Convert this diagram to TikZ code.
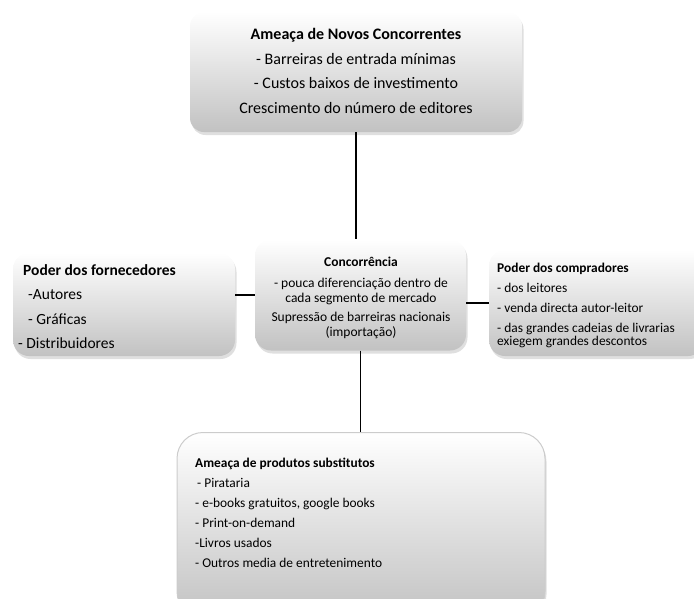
\documentclass[tikz,border=0pt]{standalone}
\usepackage{fontspec}
\setmainfont{Carlito}
\usetikzlibrary{shadows}
\begin{document}
\begin{tikzpicture}[x=1pt,y=-1pt,
  panel/.style={rectangle, rounded corners=#1, top color=white, bottom color=black!24,
    drop shadow={shadow xshift=1.5pt, shadow yshift=-3pt, opacity=0.25}},
  link/.style={line width=1.6pt, black},
  txt/.style={inner sep=0pt, text=black}
]
\useasboundingbox (0,0) rectangle (694,598);

% boxes
\node[panel=14pt, minimum width=332pt, minimum height=120pt] (novos) at (356,72) {};
\node[panel=16pt, minimum width=211pt, minimum height=111pt] (rival) at (360.5,295) {};
\node[panel=16pt, minimum width=222pt, minimum height=103pt] (forn) at (124,304.5) {};
\node[panel=16pt, minimum width=215pt, minimum height=106pt] (comp) at (596.5,303) {};
\node[panel=26pt, draw=gray!40, line width=1pt, minimum width=368pt, minimum height=185pt] (subst) at (361,525) {};

% connectors
\draw[link] (novos.south) -- (novos.south |- rival.north);
\draw[link] (forn.east |- rival.west) -- (rival.west);
\draw[link] (rival.east |- comp.west) -- (comp.west);
\draw[link] (rival.south) -- (rival.south |- subst.north);

% texts
\node[txt, align=center, font=\fontsize{16}{24.5}\selectfont] (novos-t) at (356,71)
  {{\bfseries Ameaça de Novos Concorrentes}\\- Barreiras de entrada mínimas\\- Custos baixos de investimento\\Crescimento do número de editores};
\node[txt, align=center, font=\fontsize{13.5}{15.5}\selectfont] (rival-t) at (361,298)
  {{\bfseries Concorrência}\\[5pt]- pouca diferenciação dentro de\\cada segmento de mercado\\[3pt]Supressão de barreiras nacionais\\(importação)};
\node[txt, anchor=west, align=left, font=\fontsize{15.5}{24.5}\selectfont] (forn-t) at (18,306.5)
  {\hspace*{5pt}{\bfseries Poder dos fornecedores}\\\hspace*{10pt}-Autores\\\hspace*{10pt}- Gráficas\\- Distribuidores};
\node[txt, anchor=west, align=left, font=\fontsize{13.4}{13.5}\selectfont] (comp-t) at (497,305.5)
  {{\bfseries Poder dos compradores}\\[6.5pt]- dos leitores\\[6.5pt]- venda directa autor-leitor\\[6.5pt]- das grandes cadeias de livrarias\\exiegem grandes descontos};
\node[txt, anchor=west, align=left, font=\fontsize{13.4}{20}\selectfont] (subst-t) at (195,513)
  {{\bfseries Ameaça de produtos substitutos}\\\hspace*{2pt}- Pirataria\\- e-books gratuitos, google books\\- Print-on-demand\\-Livros usados\\- Outros media de entretenimento};
\end{tikzpicture}
\end{document}
